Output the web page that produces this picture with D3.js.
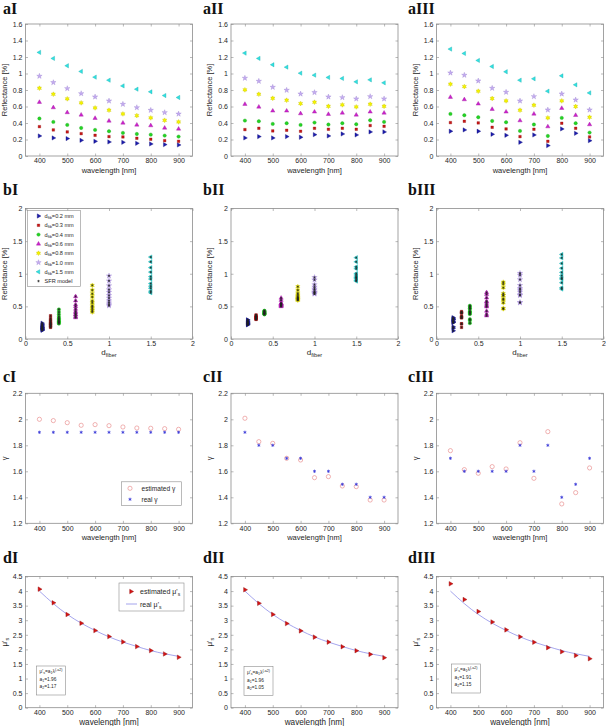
<!DOCTYPE html>
<html><head><meta charset="utf-8">
<script src="https://cdn.jsdelivr.net/npm/d3@7"></script>
<style>
body{margin:0;background:#fff}
text{font-family:"Liberation Sans",Arial,sans-serif}
.ttl{font-family:"Liberation Serif","Times New Roman",serif;font-weight:bold}
</style>
</head><body>
<svg id="c" width="606" height="726"></svg>
<script>
// ---------------- data ----------------
const wavelengths = [400,450,500,550,600,650,700,750,800,850,900];
const fiberDiameters = [0.2,0.3,0.4,0.6,0.8,1.0,1.5];
const fiberLabels = ["0.2","0.3","0.4","0.6","0.8","1.0","1.5"];

// reflectance [%] per fiber diameter (rows) vs wavelength (columns)
const reflectanceI = [
  [0.243,0.219,0.211,0.190,0.178,0.170,0.166,0.154,0.146,0.138,0.134],
  [0.356,0.316,0.292,0.271,0.251,0.235,0.231,0.215,0.203,0.186,0.178],
  [0.454,0.413,0.377,0.340,0.316,0.300,0.280,0.267,0.259,0.247,0.235],
  [0.652,0.587,0.527,0.498,0.458,0.425,0.401,0.377,0.369,0.340,0.328],
  [0.822,0.749,0.693,0.644,0.583,0.555,0.510,0.490,0.462,0.433,0.413],
  [0.968,0.891,0.818,0.757,0.717,0.668,0.628,0.587,0.555,0.527,0.510],
  [1.256,1.183,1.094,1.025,0.956,0.919,0.850,0.810,0.778,0.733,0.709]
];
const reflectanceII = [
  [0.219,0.235,0.219,0.235,0.227,0.259,0.243,0.267,0.255,0.292,0.292],
  [0.320,0.336,0.304,0.312,0.300,0.336,0.324,0.336,0.324,0.369,0.360],
  [0.429,0.421,0.389,0.397,0.377,0.405,0.381,0.397,0.385,0.433,0.413],
  [0.628,0.595,0.547,0.547,0.514,0.535,0.506,0.522,0.498,0.535,0.522],
  [0.802,0.749,0.700,0.676,0.636,0.652,0.603,0.620,0.595,0.628,0.603],
  [0.944,0.907,0.834,0.798,0.753,0.770,0.717,0.709,0.693,0.721,0.693],
  [1.247,1.183,1.106,1.077,1.004,0.980,0.952,0.940,0.899,0.923,0.887]
];
const reflectanceIII = [
  [0.300,0.316,0.300,0.263,0.251,0.166,0.255,0.126,0.328,0.275,0.186],
  [0.405,0.421,0.401,0.348,0.328,0.235,0.324,0.178,0.397,0.336,0.231],
  [0.510,0.494,0.470,0.425,0.409,0.304,0.381,0.243,0.462,0.397,0.284],
  [0.713,0.684,0.632,0.567,0.535,0.429,0.510,0.356,0.579,0.494,0.381],
  [0.871,0.842,0.786,0.697,0.668,0.555,0.616,0.462,0.668,0.600,0.470],
  [1.008,0.980,0.911,0.822,0.774,0.668,0.721,0.559,0.753,0.680,0.559],
  [1.296,1.243,1.158,1.085,1.021,0.919,0.936,0.786,0.972,0.863,0.765]
];

const gammaEstI   = [2.000,1.990,1.974,1.954,1.959,1.951,1.941,1.933,1.931,1.928,1.923];
const gammaRealI  = [1.9,1.9,1.9,1.9,1.9,1.9,1.9,1.9,1.9,1.9,1.9];
const gammaEstII  = [2.008,1.828,1.815,1.700,1.687,1.551,1.559,1.487,1.482,1.379,1.379];
const gammaRealII = [1.9,1.8,1.8,1.7,1.7,1.6,1.6,1.5,1.5,1.4,1.4];
const gammaEstIII = [1.759,1.613,1.585,1.636,1.618,1.820,1.546,1.905,1.349,1.436,1.626];
const gammaRealIII= [1.7,1.6,1.6,1.6,1.6,1.8,1.6,1.8,1.4,1.5,1.7];

const muEstI   = [4.066,3.597,3.196,2.898,2.646,2.440,2.257,2.096,1.959,1.844,1.730];
const muEstII  = [4.045,3.580,3.200,2.886,2.636,2.420,2.250,2.090,1.955,1.830,1.716];
const muEstIII = [4.250,3.710,3.300,2.940,2.670,2.430,2.245,2.060,1.920,1.790,1.680];
const muReal   = [4.000,3.570,3.200,2.900,2.650,2.430,2.250,2.100,1.960,1.850,1.760];
const fitA1 = ["1.96","1.96","1.91"];
const fitA2 = ["1.17","1.05","1.15"];

const wavelengthTicks = [400,500,600,700,800,900];
const reflTicks = [0,0.2,0.4,0.6,0.8,1,1.2,1.4,1.6];
const fiberTicks = [0,0.5,1,1.5,2];
const reflTicksB = [0,0.5,1,1.5,2];
const gammaTicks = [1.2,1.4,1.6,1.8,2,2.2];
const muTicks = [0,0.5,1,1.5,2,2.5,3,3.5,4,4.5];

// ---------------- layout / style ----------------
const svg = d3.select("#c");
const colX = [25.5, 231, 436.5], plotW = 167;
const rowY = [24, 208.5, 393.3, 576.5], plotH = [132, 130.5, 130, 131.2];
const titleX = [3, 203, 408], titleY = [14, 195, 382, 563];
const roman = ["I","II","III"];
const frameCol = "#8c8c8c", textCol = "#262626";
const fiberColors = ["#1c1cac","#c81616","#24d424","#cc22cc","#f4f400","#c4acf0","#30e2e2"];
const fiberStroke = ["#10107a","#901010","#18a018","#981898","#c8c000","#9a80d0","#18a8a8"];

const symbolHexagram = { draw(ctx, size) {
  const R = Math.sqrt(size) * 0.8, r = R * 0.55;
  for (let i = 0; i < 12; i++) {
    const a = Math.PI / 6 * i - Math.PI / 2, rr = i % 2 ? r : R;
    const px = rr * Math.cos(a), py = rr * Math.sin(a);
    if (i) ctx.lineTo(px, py); else ctx.moveTo(px, py);
  }
  ctx.closePath();
}};
const markerSpec = [
  {type: d3.symbolTriangle, size: 8, rot: 90},
  {type: d3.symbolSquare, size: 6.5, rot: 0},
  {type: d3.symbolCircle, size: 9, rot: 0},
  {type: d3.symbolTriangle, size: 8, rot: 0},
  {type: symbolHexagram, size: 9, rot: 0},
  {type: d3.symbolStar, size: 9, rot: 0},
  {type: d3.symbolTriangle, size: 8, rot: -90}
];
function fiberMarker(g, k, cx, cy) {
  const s = markerSpec[k];
  g.append("path").attr("d", d3.symbol().type(s.type).size(s.size)())
    .attr("transform", `translate(${cx},${cy}) rotate(${s.rot})`)
    .attr("fill", fiberColors[k]).attr("stroke", fiberStroke[k]).attr("stroke-width", 0.35);
}
function modelMarker(g, cx, cy) {
  g.append("path").attr("d", d3.symbol().type(d3.symbolAsterisk).size(4)())
    .attr("transform", `translate(${cx},${cy})`)
    .attr("fill", "none").attr("stroke", "#222").attr("stroke-width", 0.6);
}

function makePanel(r, c, xDomain, yDomain, xTicks, yTicks) {
  const w = plotW, h = plotH[r];
  const g = svg.append("g").attr("transform", `translate(${colX[c]},${rowY[r]})`);
  const x = d3.scaleLinear().domain(xDomain).range([0, w]);
  const y = d3.scaleLinear().domain(yDomain).range([h, 0]);
  g.append("rect").attr("width", w).attr("height", h).attr("fill", "#fff")
    .attr("stroke", frameCol).attr("stroke-width", 0.8);
  const fmt = d => String(d);
  const style = sel => {
    sel.select(".domain").remove();
    sel.selectAll("line").attr("stroke", frameCol).attr("stroke-width", 0.6);
    sel.selectAll("text").attr("fill", textCol).style("font-size", "7px");
  };
  g.append("g").attr("transform", `translate(0,${h})`)
    .call(d3.axisBottom(x).tickValues(xTicks).tickFormat(fmt).tickSizeInner(-2.5).tickSizeOuter(0).tickPadding(2.5)).call(style);
  g.append("g").call(d3.axisTop(x).tickValues(xTicks).tickFormat("").tickSizeInner(-2.5).tickSizeOuter(0)).call(style);
  g.append("g").call(d3.axisLeft(y).tickValues(yTicks).tickFormat(fmt).tickSizeInner(-2.5).tickSizeOuter(0).tickPadding(3)).call(style);
  g.append("g").attr("transform", `translate(${w},0)`)
    .call(d3.axisRight(y).tickValues(yTicks).tickFormat("").tickSizeInner(-2.5).tickSizeOuter(0)).call(style);
  svg.append("text").attr("class", "ttl").attr("x", titleX[c]).attr("y", titleY[r])
    .style("font-size", "16px").attr("fill", "#111").text("abcd"[r] + roman[c]);
  return {g, x, y, w, h};
}
function yLabel(p, parts, size) {
  const t = p.g.append("text").attr("transform", `translate(-19,${p.h / 2}) rotate(-90)`)
    .attr("text-anchor", "middle").attr("fill", textCol).style("font-size", size + "px");
  parts.forEach(([s, kind]) => {
    const ts = t.append("tspan").text(s);
    if (kind === "sub") ts.attr("baseline-shift", "-30%").style("font-size", (size * 0.7) + "px");
  });
  return t;
}
function xLabel(p, size, dy) {
  p.g.append("text").attr("x", p.w / 2).attr("y", p.h + dy).attr("text-anchor", "middle")
    .attr("fill", textCol).style("font-size", size + "px").text("wavelength [nm]");
}

// ---------------- row a ----------------
[reflectanceI, reflectanceII, reflectanceIII].forEach((R, c) => {
  const p = makePanel(0, c, [350, 950], [0, 1.6], wavelengthTicks, reflTicks);
  R.forEach((vals, k) => vals.forEach((v, i) => fiberMarker(p.g, k, p.x(wavelengths[i]), p.y(v))));
  yLabel(p, [["Reflectance [%]"]], 7.5);
  xLabel(p, 7.5, 17);
});

// ---------------- row b ----------------
[reflectanceI, reflectanceII, reflectanceIII].forEach((R, c) => {
  const p = makePanel(1, c, [0, 2], [0, 2], fiberTicks, reflTicksB);
  R.forEach((vals, k) => vals.forEach(v => fiberMarker(p.g, k, p.x(fiberDiameters[k]), p.y(v))));
  R.forEach((vals, k) => vals.forEach(v => modelMarker(p.g, p.x(fiberDiameters[k]), p.y(v))));
  yLabel(p, [["Reflectance [%]"]], 7.5);
  const t = p.g.append("text").attr("x", p.w / 2).attr("y", p.h + 15.5).attr("text-anchor", "middle")
    .attr("fill", textCol).style("font-size", "8px");
  t.append("tspan").text("d");
  t.append("tspan").attr("baseline-shift", "-35%").style("font-size", "5.6px").text("fiber");
  if (c === 0) {
    const lg = p.g.append("g").attr("transform", "translate(2,2)");
    lg.append("rect").attr("width", 53).attr("height", 76).attr("fill", "#fff")
      .attr("stroke", frameCol).attr("stroke-width", 0.6);
    fiberLabels.forEach((lab, k) => {
      const yy = 5.5 + k * 9.3;
      fiberMarker(lg, k, 11, yy);
      const tt = lg.append("text").attr("x", 17).attr("y", yy + 2).attr("fill", textCol).style("font-size", "5.6px");
      tt.append("tspan").text("d");
      tt.append("tspan").attr("baseline-shift", "-30%").style("font-size", "4px").text("fib");
      tt.append("tspan").attr("baseline-shift", "0").text("=" + lab + " mm");
    });
    const yy = 5.5 + 7 * 9.3;
    modelMarker(lg, 11, yy);
    lg.append("text").attr("x", 17).attr("y", yy + 2).attr("fill", textCol).style("font-size", "5.6px").text("SFR model");
  }
});

// ---------------- row c ----------------
[[gammaEstI, gammaRealI], [gammaEstII, gammaRealII], [gammaEstIII, gammaRealIII]].forEach(([est, real], c) => {
  const p = makePanel(2, c, [350, 950], [1.2, 2.2], wavelengthTicks, gammaTicks);
  est.forEach((v, i) => p.g.append("circle").attr("cx", p.x(wavelengths[i])).attr("cy", p.y(v)).attr("r", 2.1)
    .attr("fill", "none").attr("stroke", "#e58080").attr("stroke-width", 0.6));
  real.forEach((v, i) => p.g.append("path").attr("d", d3.symbol().type(d3.symbolAsterisk).size(7)())
    .attr("transform", `translate(${p.x(wavelengths[i])},${p.y(v)})`)
    .attr("stroke", "#3a3ad8").attr("stroke-width", 0.8).attr("fill", "none"));
  yLabel(p, [["γ"]], 7.5);
  xLabel(p, 7.5, 16.5);
  if (c === 0) {
    const lg = p.g.append("g").attr("transform", `translate(96,${p.h - 41.5})`);
    lg.append("rect").attr("width", 60).attr("height", 23.5).attr("fill", "#fff")
      .attr("stroke", frameCol).attr("stroke-width", 0.6);
    lg.append("circle").attr("cx", 8.5).attr("cy", 6.5).attr("r", 2.1).attr("fill", "none")
      .attr("stroke", "#e58080").attr("stroke-width", 0.6);
    lg.append("path").attr("d", d3.symbol().type(d3.symbolAsterisk).size(7)())
      .attr("transform", "translate(8.5,17.5)").attr("stroke", "#3a3ad8").attr("stroke-width", 0.8);
    lg.append("text").attr("x", 20).attr("y", 9).attr("fill", textCol).style("font-size", "6.6px").text("estimated γ");
    lg.append("text").attr("x", 20).attr("y", 20).attr("fill", textCol).style("font-size", "6.6px").text("real γ");
  }
});

// ---------------- row d ----------------
[muEstI, muEstII, muEstIII].forEach((est, c) => {
  const p = makePanel(3, c, [350, 950], [0, 4.5], wavelengthTicks, muTicks);
  const line = d3.line().x((d, i) => p.x(wavelengths[i])).y(d => p.y(d)).curve(d3.curveNatural);
  p.g.append("path").attr("d", line(muReal)).attr("fill", "none").attr("stroke", "#8e8ee8").attr("stroke-width", 0.8);
  est.forEach((v, i) => p.g.append("path").attr("d", d3.symbol().type(d3.symbolTriangle).size(9)())
    .attr("transform", `translate(${p.x(wavelengths[i])},${p.y(v)}) rotate(90)`)
    .attr("fill", "#d41414").attr("stroke", "#901010").attr("stroke-width", 0.4));
  yLabel(p, [["μ'"], ["s", "sub"]], 8);
  xLabel(p, 8.2, 17);
  // fit annotation box
  const bx = [11, 13, 15][c], by = [89.5, 90, 87.5][c];
  const ab = p.g.append("g").attr("transform", `translate(${bx},${by})`);
  ab.append("rect").attr("width", 29).attr("height", 29).attr("fill", "#fff").attr("stroke", frameCol).attr("stroke-width", 0.6);
  const l1 = ab.append("text").attr("x", 3).attr("y", 7).attr("fill", textCol).style("font-size", "4.8px");
  l1.append("tspan").text("μ'");
  l1.append("tspan").attr("baseline-shift", "-30%").style("font-size", "3.6px").text("s");
  l1.append("tspan").attr("baseline-shift", "0").text("=a");
  l1.append("tspan").attr("baseline-shift", "-30%").style("font-size", "3.6px").text("1");
  l1.append("tspan").attr("baseline-shift", "0").text("λ");
  l1.append("tspan").attr("baseline-shift", "40%").style("font-size", "3.6px").text("(-a2)");
  const l2 = ab.append("text").attr("x", 3).attr("y", 15).attr("fill", textCol).style("font-size", "4.8px");
  l2.append("tspan").text("a");
  l2.append("tspan").attr("baseline-shift", "-30%").style("font-size", "3.6px").text("1");
  l2.append("tspan").attr("baseline-shift", "0").text("=" + fitA1[c]);
  const l3 = ab.append("text").attr("x", 3).attr("y", 22).attr("fill", textCol).style("font-size", "4.8px");
  l3.append("tspan").text("a");
  l3.append("tspan").attr("baseline-shift", "-30%").style("font-size", "3.6px").text("2");
  l3.append("tspan").attr("baseline-shift", "0").text("=" + fitA2[c]);
  if (c === 0) {
    const lg = p.g.append("g").attr("transform", "translate(93.5,6.5)");
    lg.append("rect").attr("width", 65).attr("height", 28).attr("fill", "#fff")
      .attr("stroke", frameCol).attr("stroke-width", 0.6);
    lg.append("path").attr("d", d3.symbol().type(d3.symbolTriangle).size(9)())
      .attr("transform", "translate(12,8.5) rotate(90)").attr("fill", "#d41414").attr("stroke", "#901010").attr("stroke-width", 0.4);
    lg.append("line").attr("x1", 7).attr("x2", 18).attr("y1", 21).attr("y2", 21).attr("stroke", "#8e8ee8").attr("stroke-width", 0.8);
    [["estimated μ'", 11], ["real μ'", 23.5]].forEach(([s, yy]) => {
      const t = lg.append("text").attr("x", 21).attr("y", yy).attr("fill", textCol).style("font-size", "7px");
      t.append("tspan").text(s);
      t.append("tspan").attr("baseline-shift", "-30%").style("font-size", "5px").text("s");
    });
  }
});
</script>
</body></html>
